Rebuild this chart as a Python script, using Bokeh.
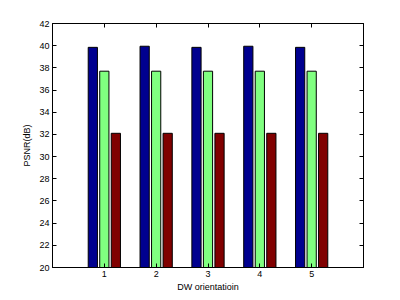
from bokeh.plotting import figure
from bokeh.models import LinearAxis, FixedTicker, Range1d, CustomLabelingPolicy
from bokeh.embed import file_html
from bokeh.resources import INLINE
import numpy as np

categories = [1, 2, 3, 4, 5]
series_a = [39.85, 39.95, 39.85, 39.95, 39.85]
series_b = [37.7, 37.7, 37.7, 37.7, 37.7]
series_c = [32.1, 32.1, 32.1, 32.1, 32.1]
y_ticks = list(range(20, 43, 2))
colors = ["#00008F", "#80FF80", "#800000"]

p = figure(width=400, height=300, output_backend="svg", toolbar_location=None,
           x_range=Range1d(0, 6), y_range=Range1d(20, 42),
           min_border_left=52, min_border_right=37, min_border_top=23, min_border_bottom=33)
p.background_fill_color = "white"
p.border_fill_color = "white"
p.outline_line_color = "black"
p.xgrid.visible = False
p.ygrid.visible = False

x = np.array(categories, dtype=float)
offs = [-2/9, 0, 2/9]
w = 2/9 * 0.8
for s, c, o in zip([series_a, series_b, series_c], colors, offs):
    p.vbar(x=x + o, top=s, bottom=20, width=w, fill_color=c, line_color="black", line_width=1)

font = "Liberation Sans"
for ax in [p.xaxis[0], p.yaxis[0]]:
    ax.major_tick_in = 4
    ax.major_tick_out = 0
    ax.minor_tick_line_color = None
    ax.axis_line_color = "black"
    ax.major_label_text_font = font
    ax.major_label_text_font_size = "9px"
    ax.major_label_text_color = "black"
    ax.axis_label_text_font = font
    ax.axis_label_text_font_size = "9px"
    ax.axis_label_text_font_style = "normal"
    ax.axis_label_text_color = "black"
p.xaxis[0].ticker = FixedTicker(ticks=categories)
p.yaxis[0].ticker = FixedTicker(ticks=y_ticks)
p.xaxis[0].axis_label = "DW orientatioin"
p.yaxis[0].axis_label = "PSNR(dB)"
p.xaxis[0].major_label_standoff = 3
p.xaxis[0].axis_label_standoff = 2
p.yaxis[0].major_label_standoff = 3
p.yaxis[0].axis_label_standoff = 4

hide = "for (const i of Array.from(indices)) { indices.unset(i) }\nreturn indices"
top = LinearAxis(ticker=FixedTicker(ticks=categories),
                 major_label_policy=CustomLabelingPolicy(code=hide),
                 major_tick_in=4, major_tick_out=0, minor_tick_line_color=None, axis_line_color="black")
right = LinearAxis(ticker=FixedTicker(ticks=y_ticks),
                   major_label_policy=CustomLabelingPolicy(code=hide),
                   major_tick_in=4, major_tick_out=0, minor_tick_line_color=None, axis_line_color="black")
p.add_layout(top, "above")
p.add_layout(right, "right")

open("out.html", "w").write(file_html(p, INLINE))
